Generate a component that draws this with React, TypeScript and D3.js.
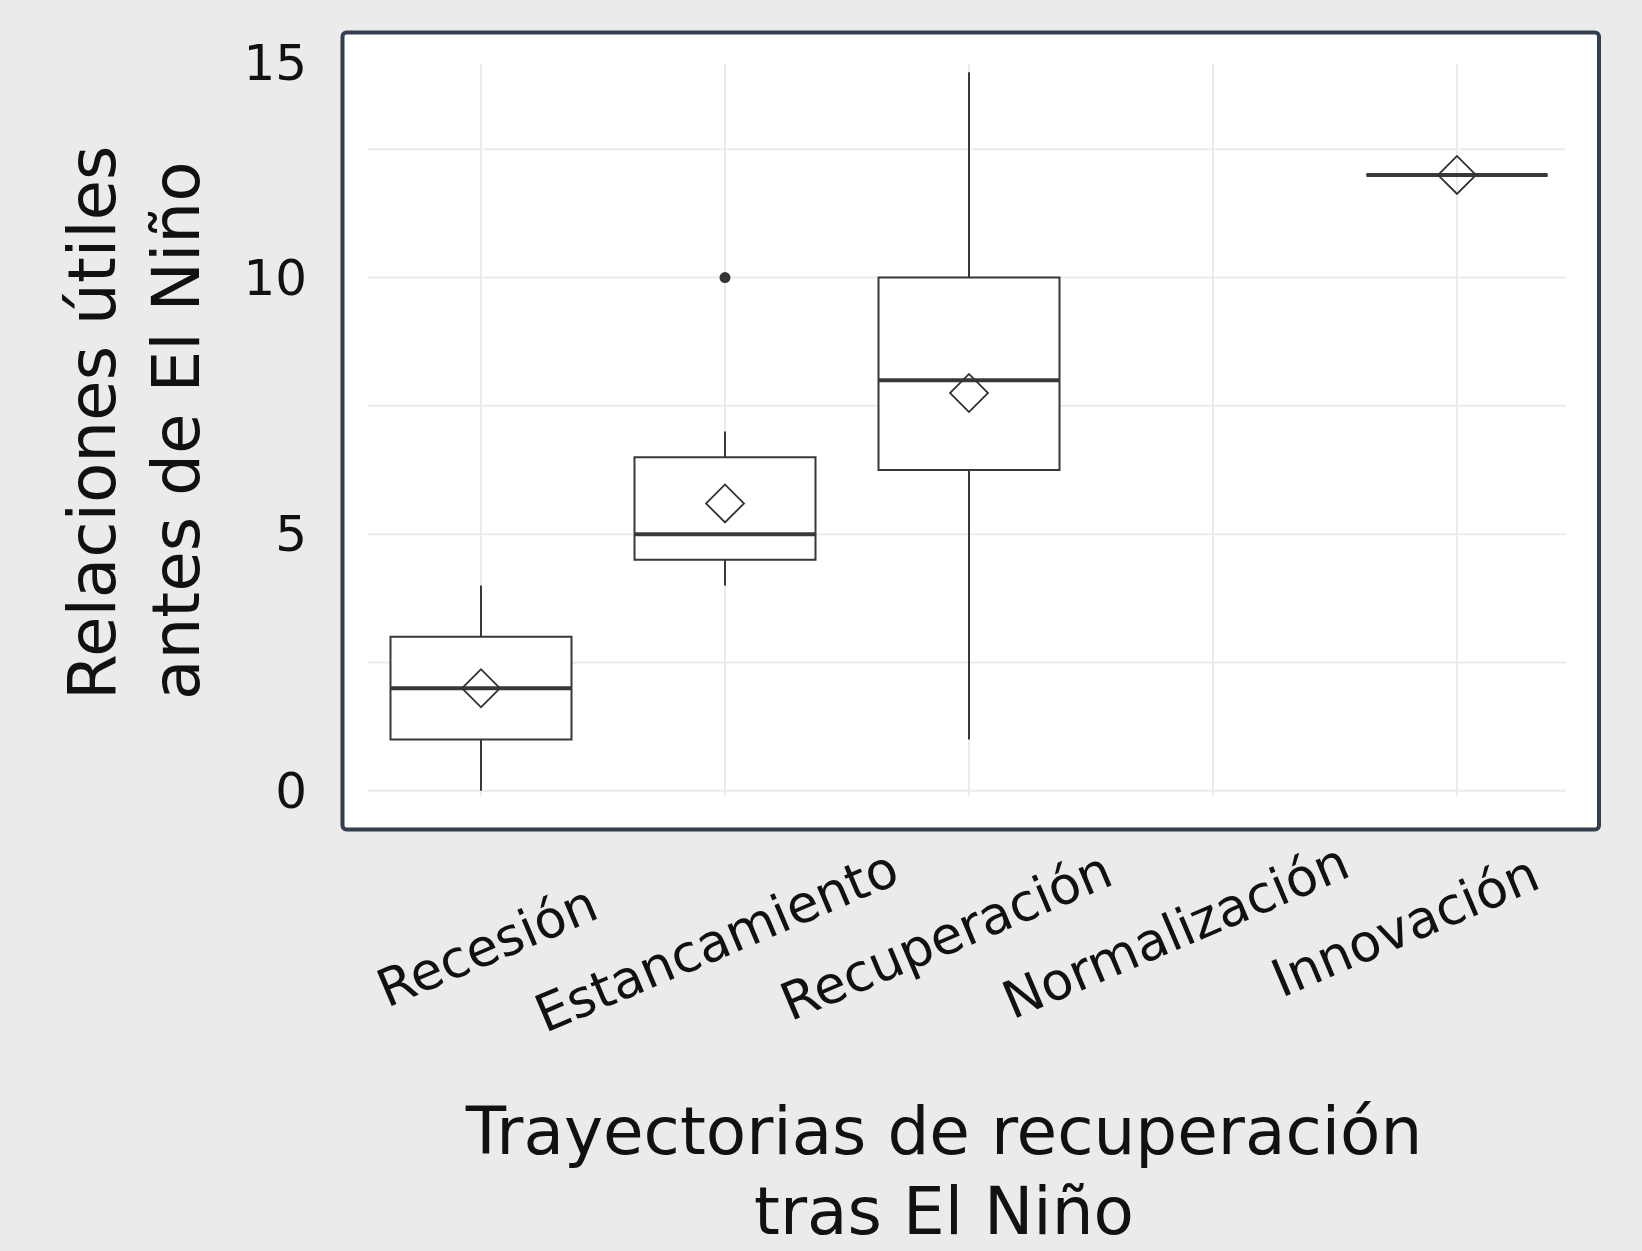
import React from "react";
import * as d3 from "d3";

const categories = ["Recesión", "Estancamiento", "Recuperación", "Normalización", "Innovación"];
const whiskerLow: (number | null)[] = [0, 4, 1, null, 12];
const q1: (number | null)[] = [1, 4.5, 6.25, null, 12];
const medians: (number | null)[] = [2, 5, 8, null, 12];
const q3: (number | null)[] = [3, 6.5, 10, null, 12];
const whiskerHigh: (number | null)[] = [4, 7, 14, null, 12];
const means: (number | null)[] = [2, 5.6, 7.75, null, 12];
const outliers: number[][] = [[], [10], [], [], []];
const yTickValues = [0, 5, 10, 15];
const yGridValues = [0, 2.5, 5, 7.5, 10, 12.5];
const yTitleLines = ["Relaciones útiles", "antes de El Niño"];
const xTitleLines = ["Trayectorias de recuperación", "tras El Niño"];

const W = 1642;
const H = 1251;
const FONT = "'DejaVu Sans', sans-serif";

export default function App() {
  const panel = { x0: 342.5, y0: 32.5, x1: 1599, y1: 829.5 };
  const y = d3.scaleLinear().domain([-0.1, 14.16]).range([796, 64]);
  const x = d3.scalePoint<string>().domain(categories).range([481, 1457]);
  const labelX = d3.scalePoint<string>().domain(categories).range([487, 1405]);
  const labelY = d3.scalePoint<string>().domain(categories).range([946, 926]);
  const boxW = 181;
  const stroke = "#383838";
  const diamond = d3.symbol().type(d3.symbolSquare).size(720)() as string;
  const top = y.range()[1];

  return (
    <>
      <style>{`body{margin:0;} svg{display:block;}`}</style>
      <svg width={W} height={H} style={{ background: "#ebebeb" }}>
        <rect x={0} y={0} width={W} height={H} fill="#ebebeb" />
        <rect
          x={panel.x0}
          y={panel.y0}
          width={panel.x1 - panel.x0}
          height={panel.y1 - panel.y0}
          fill="#ffffff"
          stroke="#333f4f"
          strokeWidth={4}
          rx={4}
        />
        {yGridValues.map((v) => (
          <line key={"h" + v} x1={368} x2={1566} y1={y(v)} y2={y(v)} stroke="#ebebeb" strokeWidth={2} />
        ))}
        {categories.map((c) => (
          <line key={"v" + c} x1={x(c)} x2={x(c)} y1={64} y2={796} stroke="#ebebeb" strokeWidth={2} />
        ))}
        {categories.map((c, i) => {
          if (medians[i] == null) return null;
          const cx = x(c) as number;
          const xl = cx - boxW / 2;
          const xr = cx + boxW / 2;
          const yq1 = y(q1[i] as number);
          const yq3 = y(q3[i] as number);
          const ym = y(medians[i] as number);
          return (
            <g key={"b" + c}>
              <line x1={cx} x2={cx} y1={y(whiskerHigh[i] as number)} y2={yq3} stroke={stroke} strokeWidth={2} />
              <line x1={cx} x2={cx} y1={yq1} y2={y(whiskerLow[i] as number)} stroke={stroke} strokeWidth={2} />
              <path d={`M${xl},${yq3}H${xr}V${yq1}H${xl}Z`} fill="#ffffff" stroke={stroke} strokeWidth={2} />
              <line x1={xl} x2={xr} y1={ym} y2={ym} stroke={stroke} strokeWidth={4} />
              {outliers[i].map((o, k) => (
                <circle key={k} cx={cx} cy={y(o)} r={5.5} fill="#333333" />
              ))}
              {means[i] != null && (
                <path
                  d={diamond}
                  transform={`translate(${cx},${y(means[i] as number)}) rotate(45)`}
                  fill="none"
                  stroke="#333333"
                  strokeWidth={1.8}
                />
              )}
            </g>
          );
        })}
        {yTickValues.map((v) => (
          <text
            key={"yt" + v}
            x={307}
            y={Math.max(y(v), top - 1)}
            textAnchor="end"
            dominantBaseline="central"
            fontFamily={FONT}
            fontSize={50}
            fill="#111"
          >
            {v}
          </text>
        ))}
        {categories.map((c) => (
          <text
            key={"xt" + c}
            transform={`translate(${labelX(c)},${labelY(c)}) rotate(-23)`}
            textAnchor="middle"
            dominantBaseline="central"
            fontFamily={FONT}
            fontSize={52}
            fill="#111"
          >
            {c}
          </text>
        ))}
        {yTitleLines.map((t, i) => (
          <text
            key={"ytl" + i}
            transform={`translate(${115 + i * 84},700) rotate(-90)`}
            textAnchor="start"
            fontFamily={FONT}
            fontSize={66}
            fill="#111"
          >
            {t}
          </text>
        ))}
        {xTitleLines.map((t, i) => (
          <text
            key={"xtl" + i}
            x={944}
            y={1154 + i * 80}
            textAnchor="middle"
            fontFamily={FONT}
            fontSize={66}
            fill="#111"
          >
            {t}
          </text>
        ))}
      </svg>
    </>
  );
}
